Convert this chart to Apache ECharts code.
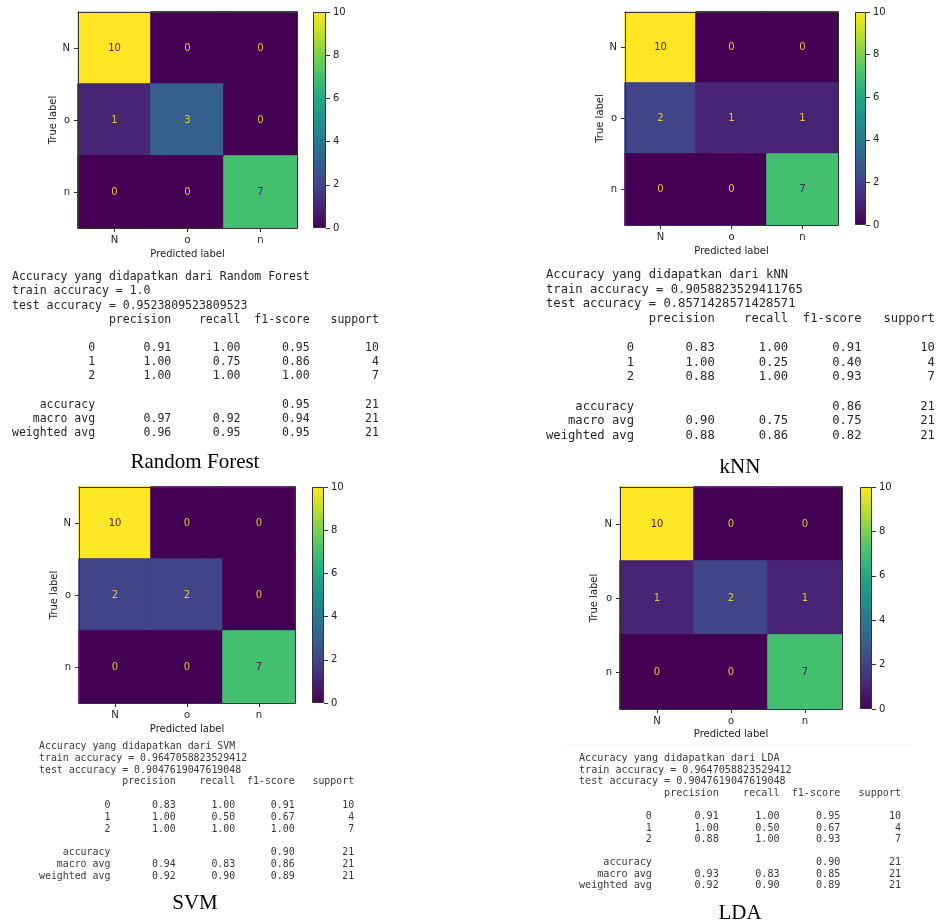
<!DOCTYPE html>
<html><head><meta charset="utf-8">
<script src="https://cdn.jsdelivr.net/npm/echarts@6/dist/echarts.min.js"></script>
<style>html,body{margin:0;padding:0;background:#fff}#c{width:941px;height:922px}</style>
</head><body><div id="c"></div><script>
// ---------------- data ----------------
const classLabels = ['N', 'o', 'n'];
const reportRowNames = ['0', '1', '2'];
const colorbarMax = 10;
const modelNames = ['Random Forest', 'kNN', 'SVM', 'LDA'];

const cmRF  = [[10, 0, 0], [1, 3, 0], [0, 0, 7]];
const cmKNN = [[10, 0, 0], [2, 1, 1], [0, 0, 7]];
const cmSVM = [[10, 0, 0], [2, 2, 0], [0, 0, 7]];
const cmLDA = [[10, 0, 0], [1, 2, 1], [0, 0, 7]];

const trainAcc = ['1.0', '0.9058823529411765', '0.9647058823529412', '0.9647058823529412'];
const testAcc  = ['0.9523809523809523', '0.8571428571428571', '0.9047619047619048', '0.9047619047619048'];

const support = [10, 4, 7];
const supportTotal = 21;

const precRF = [0.91, 1.00, 1.00], recRF = [1.00, 0.75, 1.00], f1RF = [0.95, 0.86, 1.00];
const precKNN = [0.83, 1.00, 0.88], recKNN = [1.00, 0.25, 1.00], f1KNN = [0.91, 0.40, 0.93];
const precSVM = [0.83, 1.00, 1.00], recSVM = [1.00, 0.50, 1.00], f1SVM = [0.91, 0.67, 1.00];
const precLDA = [0.91, 1.00, 0.88], recLDA = [1.00, 0.50, 1.00], f1LDA = [0.95, 0.67, 0.93];

const accuracyF1 = [0.95, 0.86, 0.90, 0.90];
const macroRF = [0.97, 0.92, 0.94], weightedRF = [0.96, 0.95, 0.95];
const macroKNN = [0.90, 0.75, 0.75], weightedKNN = [0.88, 0.86, 0.82];
const macroSVM = [0.94, 0.83, 0.86], weightedSVM = [0.92, 0.90, 0.89];
const macroLDA = [0.93, 0.83, 0.85], weightedLDA = [0.92, 0.90, 0.89];

const models = [
  {cm: cmRF,  prec: precRF,  rec: recRF,  f1: f1RF,  macro: macroRF,  weighted: weightedRF},
  {cm: cmKNN, prec: precKNN, rec: recKNN, f1: f1KNN, macro: macroKNN, weighted: weightedKNN},
  {cm: cmSVM, prec: precSVM, rec: recSVM, f1: f1SVM, macro: macroSVM, weighted: weightedSVM},
  {cm: cmLDA, prec: precLDA, rec: recLDA, f1: f1LDA, macro: macroLDA, weighted: weightedLDA}
];

// ---------------- layout / style ----------------
const viridis = ['#440154','#482475','#414487','#355f8d','#2a788e','#21918c','#22a884','#44bf70','#7ad151','#bddf26','#fde725'];
const layout = [
  {heat: [78, 12, 219, 216], cb: [313, 12, 13, 216], yGap: 20, xGap: 21,
   text: {x: 12, y: 277.3, lh: 14.15, fs: 11.5, color: '#262626'}, cap: {x: 195, y: 462}},
  {heat: [625, 12, 213, 213], cb: [855, 12, 11, 213], yGap: 20, xGap: 21,
   text: {x: 546, y: 275, lh: 14.6, fs: 12.2, color: '#262626'}, cap: {x: 740, y: 467}},
  {heat: [79, 487, 216, 216], cb: [312, 487, 12, 216], yGap: 20, xGap: 21,
   text: {x: 39, y: 746.5, lh: 11.8, fs: 9.9, color: '#383838'}, cap: {x: 195, y: 903}},
  {heat: [620, 487, 222, 222], cb: [860, 487, 12, 222], yGap: 21, xGap: 20,
   text: {x: 579, y: 758.5, lh: 11.57, fs: 10.1, color: '#383838'}, cap: {x: 740, y: 913}}
];
const FONT = 'DejaVu Sans';
const MONO = 'DejaVu Sans Mono';
const AX = '#333';
const LBL = '#222';

function padL(s, w) { s = String(s); return s.length >= w ? s : ' '.repeat(w - s.length) + s; }
function buildReport(i) {
  const m = models[i];
  const lines = [];
  lines.push('Accuracy yang didapatkan dari ' + modelNames[i]);
  lines.push('train accuracy = ' + trainAcc[i]);
  lines.push('test accuracy = ' + testAcc[i]);
  lines.push(padL('', 12) + ' ' + ' ' + padL('precision', 9) + ' ' + padL('recall', 9) + ' ' + padL('f1-score', 9) + ' ' + padL('support', 9));
  lines.push('');
  for (let k = 0; k < 3; k++) {
    lines.push(padL(reportRowNames[k], 12) + ' ' + ' ' + padL(m.prec[k].toFixed(2), 9) + ' ' + padL(m.rec[k].toFixed(2), 9) + ' ' + padL(m.f1[k].toFixed(2), 9) + ' ' + padL(support[k], 9));
  }
  lines.push('');
  lines.push(padL('accuracy', 12) + ' ' + ' ' + padL('', 9) + ' ' + padL('', 9) + ' ' + padL(accuracyF1[i].toFixed(2), 9) + ' ' + padL(supportTotal, 9));
  lines.push(padL('macro avg', 12) + ' ' + ' ' + padL(m.macro[0].toFixed(2), 9) + ' ' + padL(m.macro[1].toFixed(2), 9) + ' ' + padL(m.macro[2].toFixed(2), 9) + ' ' + padL(supportTotal, 9));
  lines.push(padL('weighted avg', 12) + ' ' + ' ' + padL(m.weighted[0].toFixed(2), 9) + ' ' + padL(m.weighted[1].toFixed(2), 9) + ' ' + padL(m.weighted[2].toFixed(2), 9) + ' ' + padL(supportTotal, 9));
  return lines.join('\n');
}

const grid = [], xAxis = [], yAxis = [], series = [], visualMap = [], graphic = [];
const catAxisBase = {type: 'category', data: classLabels, z: 5,
  axisLine: {show: true, lineStyle: {color: AX, width: 1}},
  splitLine: {show: false}};

models.forEach((m, p) => {
  const L = layout[p];
  const gH = grid.length, gC = gH + 1;
  grid.push({left: L.heat[0], top: L.heat[1], width: L.heat[2], height: L.heat[3], containLabel: false});
  grid.push({left: L.cb[0], top: L.cb[1], width: L.cb[2], height: L.cb[3], containLabel: false});
  const xb = xAxis.length;
  xAxis.push(Object.assign({}, catAxisBase, {gridIndex: gH, position: 'bottom',
    axisTick: {show: true, alignWithLabel: true, length: 4, lineStyle: {color: AX}},
    axisLabel: {show: true, margin: 7, color: LBL, fontFamily: FONT, fontSize: 10},
    name: 'Predicted label', nameLocation: 'middle', nameGap: L.xGap,
    nameTextStyle: {color: LBL, fontFamily: FONT, fontSize: 10}}));
  xAxis.push(Object.assign({}, catAxisBase, {gridIndex: gH, position: 'top',
    axisTick: {show: false}, axisLabel: {show: false}}));
  xAxis.push({type: 'category', gridIndex: gC, data: ['cb'], show: false});
  const yb = yAxis.length;
  yAxis.push(Object.assign({}, catAxisBase, {gridIndex: gH, position: 'left', inverse: true,
    axisTick: {show: true, alignWithLabel: true, length: 4, lineStyle: {color: AX}},
    axisLabel: {show: true, margin: 8, color: LBL, fontFamily: FONT, fontSize: 10},
    name: 'True label', nameLocation: 'middle', nameGap: L.yGap, nameRotate: 90,
    nameTextStyle: {color: LBL, fontFamily: FONT, fontSize: 10}}));
  yAxis.push(Object.assign({}, catAxisBase, {gridIndex: gH, position: 'right', inverse: true,
    axisTick: {show: false}, axisLabel: {show: false}}));
  yAxis.push({type: 'value', gridIndex: gC, position: 'right', min: 0, max: colorbarMax, interval: 2, z: 5,
    axisLine: {show: false}, splitLine: {show: false},
    axisTick: {show: true, length: 4, lineStyle: {color: AX}},
    axisLabel: {show: true, margin: 7, color: LBL, fontFamily: FONT, fontSize: 10}});

  const flat = m.cm.flat();
  const thresh = (Math.max(...flat) + Math.min(...flat)) / 2;
  const data = [];
  m.cm.forEach((row, i) => row.forEach((v, j) => {
    data.push({value: [j, i, v],
      itemStyle: {borderColor: viridis[Math.round(v / colorbarMax * (viridis.length - 1))], borderWidth: 1},
      label: {color: v < thresh ? '#e6c43c' : '#4a1a5e'}});
  }));
  series.push({type: 'heatmap', xAxisIndex: xb, yAxisIndex: yb, data: data,
    label: {show: true, fontFamily: FONT, fontSize: 10, formatter: (d) => String(d.value[2])},
    emphasis: {disabled: true}, z: 2});
  visualMap.push({type: 'continuous', show: false, min: 0, max: colorbarMax, seriesIndex: p, dimension: 2,
    inRange: {color: viridis}});

  graphic.push({type: 'text', x: L.text.x, y: L.text.y - L.text.lh / 2, silent: true,
    style: {text: buildReport(p), fontFamily: MONO, fontSize: L.text.fs, lineHeight: L.text.lh,
      fill: L.text.color, verticalAlign: 'top', align: 'left'}});
  graphic.push({type: 'text', x: L.cap.x, y: L.cap.y, silent: true,
    style: {text: modelNames[p], fontFamily: 'Liberation Serif', fontSize: 21, fill: '#000',
      align: 'center', verticalAlign: 'middle'}});
});

// colorbars (a single full-height bar with the viridis gradient on each colorbar axis)
models.forEach((m, p) => {
  series.push({type: 'bar', xAxisIndex: p * 3 + 2, yAxisIndex: p * 3 + 2, data: [colorbarMax],
    barWidth: '100%', silent: true, z: 2,
    itemStyle: {borderColor: AX, borderWidth: 1,
      color: {type: 'linear', x: 0, y: 0, x2: 0, y2: 1,
        colorStops: viridis.slice().reverse().map((c, k) => ({offset: k / (viridis.length - 1), color: c}))}}});
});

graphic.push({type: 'line', silent: true, shape: {x1: 567, y1: 745, x2: 912, y2: 745},
  style: {stroke: '#efefef', lineWidth: 1}});

const chart = echarts.init(document.getElementById('c'), null, {renderer: 'canvas'});
chart.setOption({animation: false, backgroundColor: '#fff', grid, xAxis, yAxis, series, visualMap, graphic});
</script></body></html>
